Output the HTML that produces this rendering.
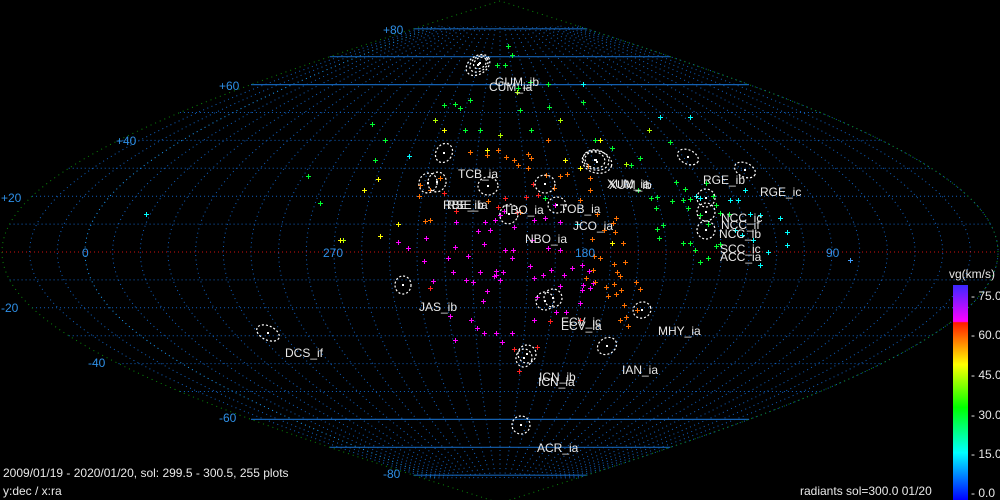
<!DOCTYPE html>
<html><head><meta charset="utf-8"><style>
html,body{margin:0;padding:0;background:#000;}
svg{display:block;}
text{font-family:"Liberation Sans","DejaVu Sans",sans-serif;font-size:12px;}
.l{fill:#e8e8e8;}
.a{fill:#2e8fe6;}
</style></head><body>
<svg id="s" width="1000" height="500" viewBox="0 0 1000 500" xmlns="http://www.w3.org/2000/svg">
<rect width="1000" height="500" fill="#000"/>
<g id="grid"></g>
<g id="pts" shape-rendering="crispEdges"></g>
<g id="ell" fill="none" stroke="#fff" stroke-width="1.2" stroke-dasharray="2 2"></g>
<text class="a" x="383" y="34">+80</text>
<text class="a" x="219" y="90">+60</text>
<text class="a" x="116" y="145">+40</text>
<text class="a" x="1" y="202">+20</text>
<text class="a" x="82" y="257">0</text>
<text class="a" x="1" y="312">-20</text>
<text class="a" x="88" y="367">-40</text>
<text class="a" x="219" y="422">-60</text>
<text class="a" x="383" y="478">-80</text>
<text class="a" x="323" y="257">270</text>
<text class="a" x="575" y="257">180</text>
<text class="a" x="826" y="257">90</text>
<text class="l" x="495" y="86">GUM_ib</text>
<text class="l" x="489" y="91">CUM_ia</text>
<text class="l" x="458" y="178">TCB_ia</text>
<text class="l" x="443" y="209">RBE_ib</text>
<text class="l" x="447" y="209">RSE_ia</text>
<text class="l" x="503" y="214">TBO_ia</text>
<text class="l" x="560" y="213">TOB_ia</text>
<text class="l" x="573" y="230">JCO_ia</text>
<text class="l" x="525" y="243">NBO_ia</text>
<text class="l" x="607" y="188">XUM_ia</text>
<text class="l" x="609" y="189">XUM_ib</text>
<text class="l" x="703" y="184">RGE_ib</text>
<text class="l" x="760" y="196">RGE_ic</text>
<text class="l" x="721" y="222">NCC_ic</text>
<text class="l" x="721" y="229">NCC_if</text>
<text class="l" x="719" y="238">NCC_ib</text>
<text class="l" x="720" y="253">SCC_ic</text>
<text class="l" x="720" y="261">ACC_ia</text>
<text class="l" x="419" y="311">JAS_ib</text>
<text class="l" x="561" y="326">ECV_ic</text>
<text class="l" x="561" y="330">ECV_ia</text>
<text class="l" x="658" y="335">MHY_ia</text>
<text class="l" x="285" y="357">DCS_if</text>
<text class="l" x="622" y="374">IAN_ia</text>
<text class="l" x="539" y="381">ICN_ib</text>
<text class="l" x="538" y="386">ICN_ia</text>
<text class="l" x="537" y="452">ACR_ia</text>
<text class="l" x="3" y="477">2009/01/19 - 2020/01/20,  sol: 299.5 - 300.5, 255 plots</text>
<text class="l" x="3" y="495">y:dec / x:ra</text>
<text class="l" x="800" y="495">radiants sol=300.0 01/20</text>
<defs><linearGradient id="cb" x1="0" y1="0" x2="0" y2="1">
<stop offset="0" stop-color="#3a28ff"/><stop offset="0.17" stop-color="#ff00ff"/>
<stop offset="0.175" stop-color="#ff1a00"/><stop offset="0.37" stop-color="#ffff00"/>
<stop offset="0.57" stop-color="#00ff00"/><stop offset="0.78" stop-color="#00ffff"/>
<stop offset="1" stop-color="#0000ff"/></linearGradient></defs>
<rect x="953" y="285" width="15" height="215" fill="url(#cb)"/>
<text class="l" x="949" y="278">vg(km/s)</text>
<text class="l" x="971" y="300">- 75.0</text>
<text class="l" x="971" y="339">- 60.0</text>
<text class="l" x="971" y="379">- 45.0</text>
<text class="l" x="971" y="419">- 30.0</text>
<text class="l" x="971" y="458">- 15.0</text>
<text class="l" x="971" y="497">- 0.0</text>
</svg>
<script>
var NS="http://www.w3.org/2000/svg",cx=500,cy=252,kx=2.767,ky=2.79;
function P(ra,d){var l=210-ra;while(l>180)l-=360;while(l<-180)l+=360;return [cx+l*kx*Math.cos(d*Math.PI/180),cy-d*ky];}
function el(t,a,p){var e=document.createElementNS(NS,t);for(var k in a)e.setAttribute(k,a[k]);p.appendChild(e);return e;}
var g=document.getElementById('grid');
for(var ra=0;ra<360;ra+=10){var pts=[];for(var d=-81;d<=81;d+=1){pts.push(P(ra+0.0001,d).join(','));}
 el('polyline',{points:pts.join(' '),fill:'none',stroke:ra==0?'#1aa0ff':'#1060c0','stroke-width':1,'stroke-dasharray':'1 3.5'},g);}
for(var d=-80;d<=80;d+=10){var w=498*Math.cos(d*Math.PI/180),y=cy-d*ky;
 if(d==0){el('line',{x1:cx-w,y1:y,x2:cx+w,y2:y,stroke:'#d01010','stroke-dasharray':'1 3'},g);}
 else if(Math.abs(d)>=60){el('line',{x1:cx-w,y1:y,x2:cx+w,y2:y,stroke:'#1460b0','stroke-width':1.2},g);}
 else el('line',{x1:cx-w,y1:y,x2:cx+w,y2:y,stroke:'#1060c0','stroke-dasharray':'1 3'},g);}
var b=[];for(var d=-90;d<=90;d+=1){b.push((cx+498*Math.cos(d*Math.PI/180))+','+(cy-d*ky));}
for(var d=90;d>=-90;d-=1){b.push((cx-498*Math.cos(d*Math.PI/180))+','+(cy-d*ky));}
el('polygon',{points:b.join(' '),fill:'none',stroke:'#0a8a0a','stroke-dasharray':'1 4'},g);
var M='#ff00ff',O='#ff7000',R='#ff2020',Y='#ffff00',YG='#b0ff00',G='#00ff30',C='#00ffff',B='#40a0ff';
var pts=[
[508,46,G],[512,55,G],[505,65,G],[497,65,G],[530,82,G],[548,84,G],[518,88,G],[583,84,C],[583,102,G],[549,107,G],[455,104,G],[444,105,G],[470,100,G],[465,130,G],[460,108,G],[520,110,G],
[385,140,G],[409,156,C],[372,124,G],[435,120,YG],[444,130,Y],[517,92,YG],[500,135,YG],[480,130,G],[487,150,Y],[531,130,G],[560,120,YG],
[470,152,O],[487,155,O],[498,150,O],[506,157,O],[518,165,O],[528,168,O],[531,158,O],[554,188,O],[567,174,O],[588,166,O],[580,200,O],[616,218,O],[597,214,O],[613,223,O],
[419,196,O],[420,185,O],[430,190,O],[440,178,O],[444,193,R],[456,211,R],[488,201,O],[498,207,R],[504,211,M],[520,212,O],[526,197,R],[538,195,R],[533,184,R],[517,212,R],[505,198,R],
[490,230,M],[485,222,M],[495,220,M],[500,215,M],[456,222,M],[478,231,M],[514,227,M],[534,220,M],[545,218,M],[555,205,M],[560,222,M],[577,224,C],[398,224,M],[398,242,M],[455,247,M],[505,250,M],[532,240,M],[548,248,M],[560,250,M],
[448,258,M],[468,256,M],[484,244,M],[512,258,M],[513,250,M],[494,276,M],[496,271,M],[453,272,M],[466,280,M],[424,261,M],[426,238,M],[408,248,M],[503,272,M],[534,278,M],[551,270,M],[564,275,M],[572,268,M],[589,271,M],[582,265,M],[583,285,M],[590,288,M],[593,283,M],
[560,286,M],[543,275,M],[530,266,M],[616,294,O],[620,276,O],[608,296,O],[621,290,O],[614,284,O],[594,256,O],[614,264,O],[623,243,O],[625,262,O],[612,243,Y],[592,239,O],
[430,288,R],[433,281,M],[473,282,M],[480,272,M],[500,280,M],[450,316,M],[483,301,M],[487,291,M],[537,297,M],[556,312,M],[566,312,M],[580,303,M],[582,290,M],[586,278,O],[593,270,O],[617,272,O],[624,305,O],[636,282,O],[640,289,O],[620,320,O],[626,317,O],[628,326,O],[637,310,O],
[484,333,M],[477,328,M],[512,333,M],[502,342,M],[514,349,R],[537,347,R],[519,371,R],[550,321,R],[496,333,M],[534,320,M],[471,320,M],[580,320,R],[595,282,O],[606,287,O],
[600,140,Y],[612,148,G],[626,164,YG],[631,165,G],[640,158,G],[649,130,YG],[660,117,C],[670,142,G],[690,117,C],[595,140,G],[638,190,G],[651,198,G],[657,197,G],[656,208,G],[672,201,G],[663,225,G],[659,238,G],[657,229,G],[676,182,G],[685,189,G],[683,200,G],[690,199,G],[688,208,G],[696,196,C],[706,183,G],[700,198,C],[713,196,G],[716,205,G],[720,213,G],[729,214,G],[745,190,C],[738,200,C],[730,200,C],[750,214,C],[760,215,C],[780,218,C],[787,232,C],[700,215,G],[708,224,G],[720,244,G],[695,250,G],[690,243,G],[683,243,G],[700,262,G],[753,240,C],[768,252,C],[787,245,C],[760,265,C],[742,235,C],[735,230,C],[716,246,G],[708,258,G],
[343,240,YG],[380,236,Y],[398,224,Y],[378,179,Y],[375,160,G],[364,190,Y],[320,203,G],[308,176,G],[340,240,Y],[146,214,C],[850,260,B],[580,168,Y],[565,160,Y],[548,140,O],[528,154,O],[514,160,O],[560,176,O],[546,175,O],[545,198,G],[590,178,O],[425,221,O],[430,220,O],[590,190,O],[455,340,M],[496,275,M],[600,258,O],[615,232,O],[604,230,O]
];
var pg=document.getElementById('pts');
pts.forEach(function(p){var x=Math.round(p[0])+0.5,y=Math.round(p[1])+0.5;
 el('path',{d:'M'+(x-2.5)+' '+y+'h5M'+x+' '+(y-2.5)+'v5',stroke:p[2],'stroke-width':1,fill:'none'},pg);});
var E=[[479,64,10,7,-35],[480,63,7,5,-35],[478,65,13,9,-35],[444,153,8,10,30],[428,183,9,10,20],[437,182,9,10,20],[488,186,10,9,0],[545,184,10,9,0],[557,205,9,8,0],[509,214,9,10,30],[595,160,10,8,15],[596,160,13,10,15],[597,162,15,11,15],[688,157,11,7,25],[745,170,11,7,25],[706,198,9,9,0],[706,212,9,9,0],[706,230,9,9,0],[403,285,8,9,0],[545,301,9,9,0],[553,298,9,9,0],[642,310,9,8,-20],[268,333,12,7,25],[527,354,9,9,0],[524,358,8,9,10],[607,346,10,8,-30],[521,425,9,9,0]];
var eg=document.getElementById('ell');
E.forEach(function(e){el('ellipse',{cx:e[0],cy:e[1],rx:e[2],ry:e[3],transform:'rotate('+e[4]+' '+e[0]+' '+e[1]+')'},eg);
 el('rect',{x:e[0]-1,y:e[1]-1,width:2,height:2,fill:'#fff',stroke:'none'},eg);});
</script>
</body></html>
